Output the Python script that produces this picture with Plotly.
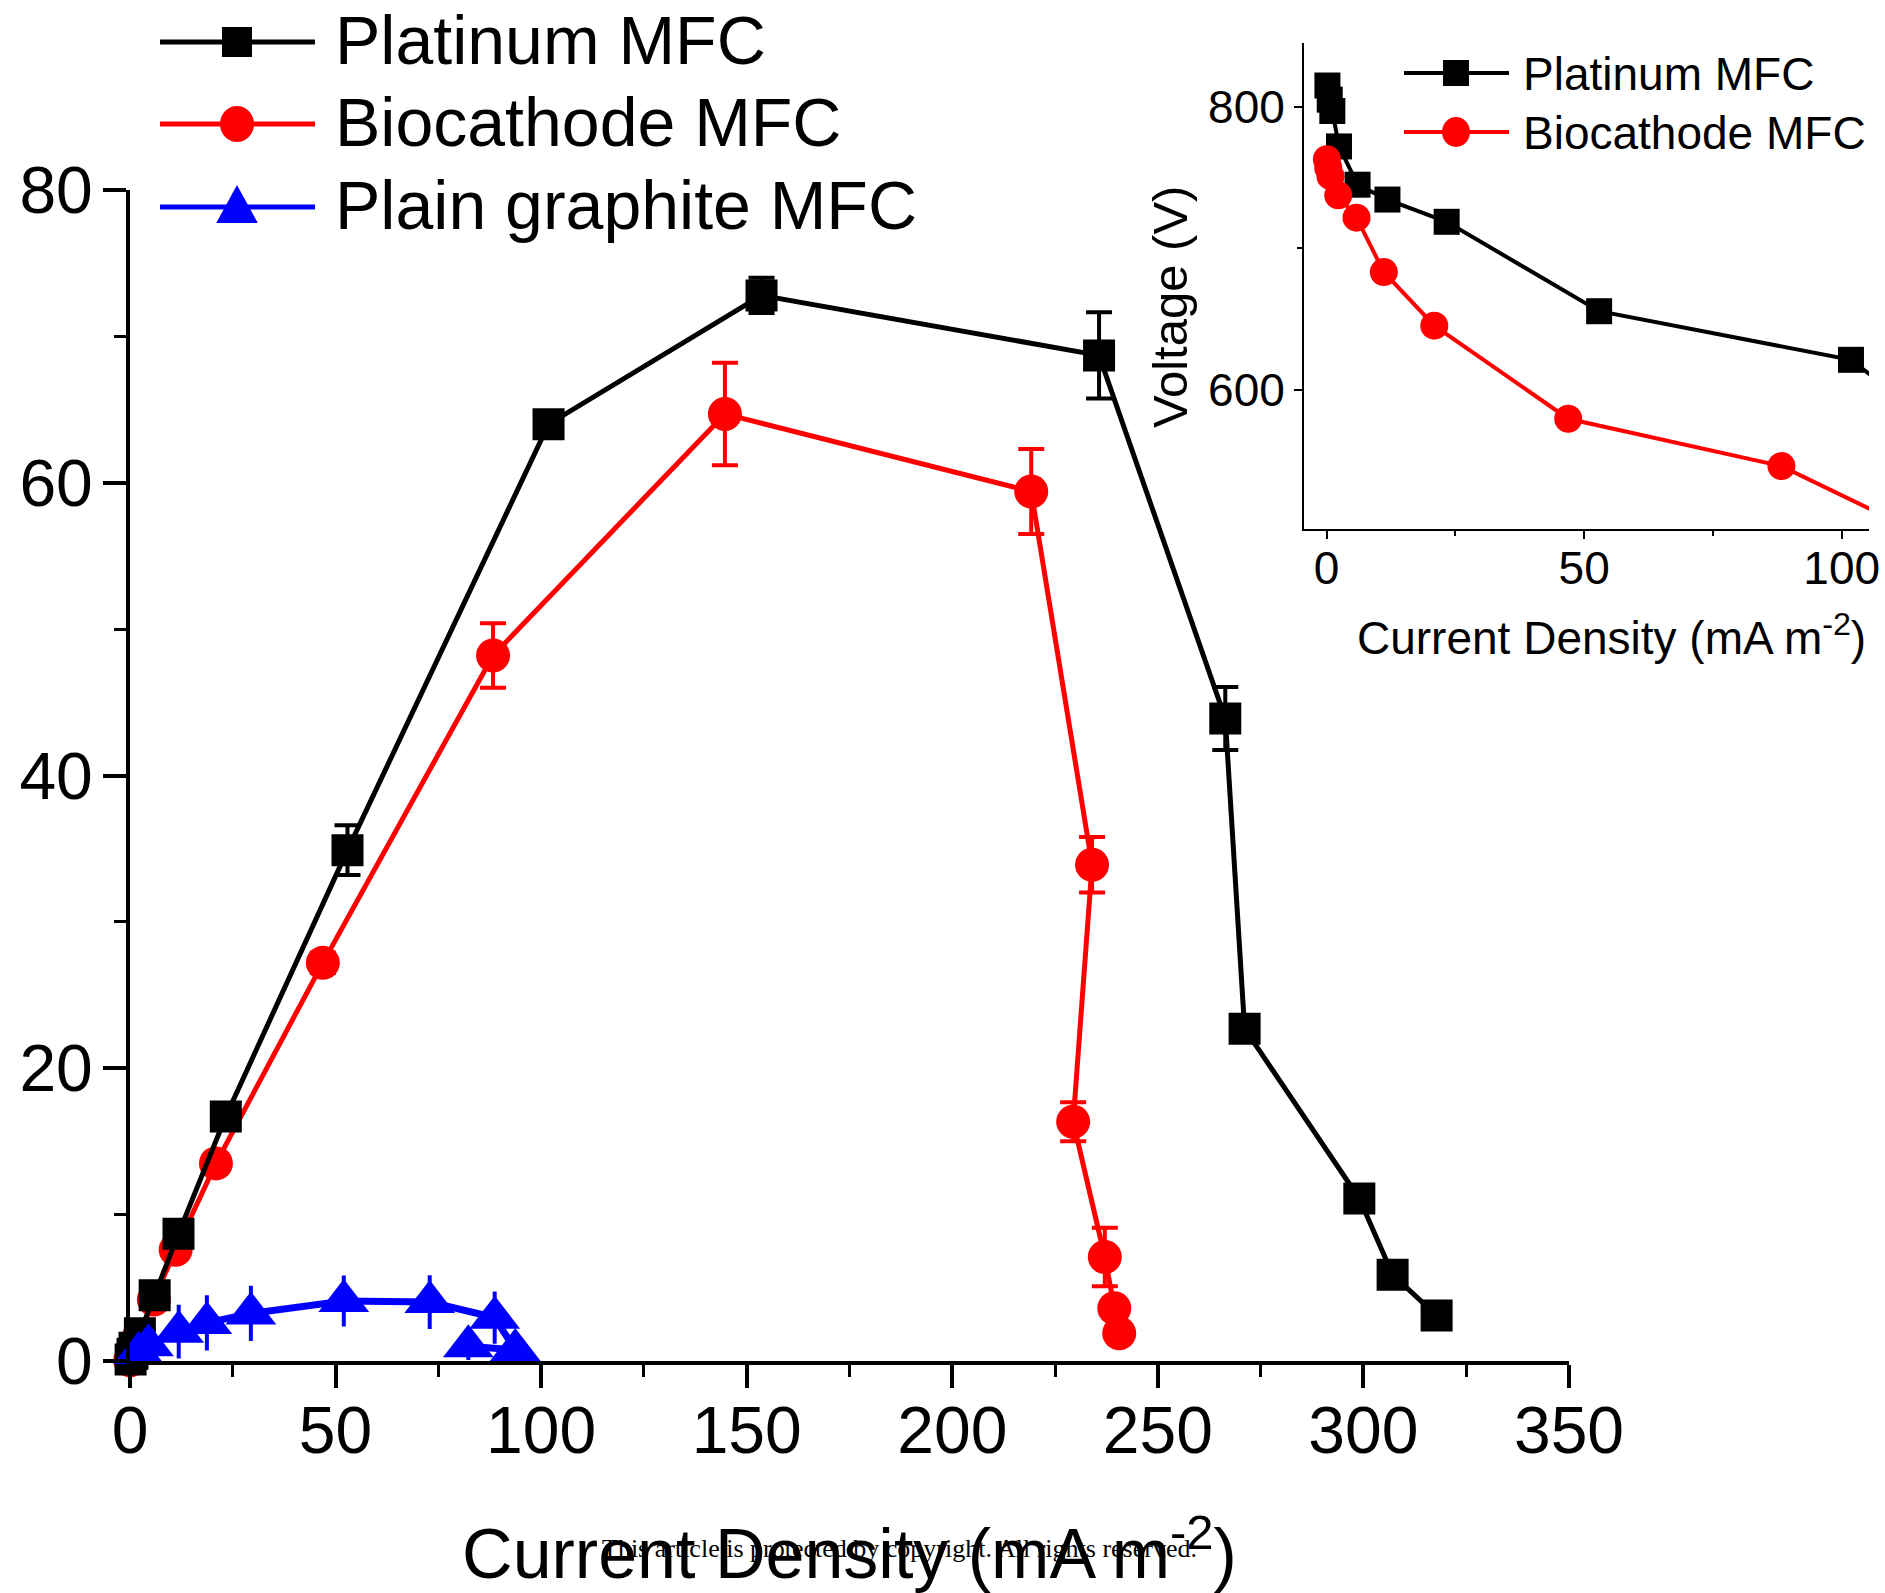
import plotly.graph_objects as go

W, H = 1885, 1593

# ---------------- data ----------------
# Platinum MFC
pt_current = [0.15, 0.6, 1.1, 2.4, 6.0, 11.8, 23.3, 52.9, 101.8, 153.6, 235.7, 266.4, 271.1, 299.0, 307.1, 317.8]
pt_power = [0.1, 0.5, 0.9, 1.9, 4.5, 8.7, 16.7, 34.9, 64.0, 72.8, 68.7, 43.9, 22.7, 11.1, 5.9, 3.1]
pt_power_err = [0.1, 0.1, 0.2, 0.3, 0.6, 0.8, 0.7, 1.7, 0.6, 1.2, 2.95, 2.15, 0.6, 0.5, 0.4, 0.4]
pt_voltage = [815, 805, 797, 772, 745, 734.5, 718.8, 655.7, 621.4, 476, 293, 165, 84, 37, 19, 10]

# Biocathode MFC
bio_current = [0.05, 0.3, 0.75, 2.25, 5.8, 11.1, 20.9, 46.9, 88.3, 144.7, 219.2, 234.0, 229.4, 237.1, 239.4, 240.6]
bio_power = [0.04, 0.2, 0.6, 1.7, 4.2, 7.6, 13.5, 27.2, 48.2, 64.7, 59.4, 33.9, 16.35, 7.1, 3.6, 1.9]
bio_power_err = [0.1, 0.1, 0.2, 0.3, 0.5, 0.6, 0.6, 0.7, 2.2, 3.5, 2.9, 1.9, 1.33, 2.0, 0.5, 0.3]
bio_voltage = [763, 757, 751, 737.5, 721.7, 683.3, 645.5, 579.8, 546.4, 447, 271, 146, 71, 30, 15, 8]

# Plain graphite MFC
pg_current = [2.1, 4.5, 11.85, 18.7, 29.4, 52.0, 72.9, 88.7, 93.7, 82.3]
pg_power = [0.55, 1.07, 2.0, 2.6, 3.25, 4.1, 4.03, 2.96, 0.75, 1.0]
pg_power_err = [0.5, 1.0, 1.7, 1.75, 1.75, 1.6, 1.7, 1.65, 0.6, 0.8]

series_names = ["Platinum MFC", "Biocathode MFC", "Plain graphite MFC"]
inset_names = ["Platinum MFC", "Biocathode MFC"]

main_x_ticks = [0, 50, 100, 150, 200, 250, 300, 350]
main_y_ticks = [0, 20, 40, 60, 80]
inset_x_ticks = [0, 50, 100]
inset_y_ticks = [600, 800]

x_title = "Current Density (mA m<sup>-2</sup>)"
inset_y_title = "Voltage (V)"
watermark = "This article is protected by copyright. All rights reserved."

# ---------------- styling ----------------
FONT = "Liberation Sans, Arial, sans-serif"
BLACK, RED, BLUE = "#000000", "#ff0000", "#0000ff"


def px_x(x):
    return x / W


def px_y(y):
    return 1 - y / H


fig = go.Figure()

# main plot traces (red, black, blue drawing order)
fig.add_trace(go.Scatter(
    x=bio_current, y=bio_power, name=series_names[1], mode="lines+markers",
    line=dict(color=RED, width=5),
    marker=dict(symbol="circle", size=34, color=RED),
    error_y=dict(type="data", array=bio_power_err, color=RED, thickness=4, width=13),
    cliponaxis=False, showlegend=False, xaxis="x", yaxis="y"))
fig.add_trace(go.Scatter(
    x=pt_current, y=pt_power, name=series_names[0], mode="lines+markers",
    line=dict(color=BLACK, width=5),
    marker=dict(symbol="square", size=32, color=BLACK),
    error_y=dict(type="data", array=pt_power_err, color=BLACK, thickness=4, width=13),
    cliponaxis=False, showlegend=False, xaxis="x", yaxis="y"))
fig.add_trace(go.Scatter(
    x=pg_current, y=pg_power, name=series_names[2], mode="lines+markers",
    line=dict(color=BLUE, width=7),
    marker=dict(symbol="triangle-up", size=44, color=BLUE),
    error_y=dict(type="data", array=pg_power_err, color=BLUE, thickness=4, width=2),
    cliponaxis=False, showlegend=False, xaxis="x", yaxis="y"))

# inset traces
fig.add_trace(go.Scatter(
    x=pt_current, y=pt_voltage, name=inset_names[0], mode="lines+markers",
    line=dict(color=BLACK, width=4),
    marker=dict(symbol="square", size=26, color=BLACK),
    showlegend=False, xaxis="x2", yaxis="y2"))
fig.add_trace(go.Scatter(
    x=bio_current, y=bio_voltage, name=inset_names[1], mode="lines+markers",
    line=dict(color=RED, width=4),
    marker=dict(symbol="circle", size=28, color=RED),
    showlegend=False, xaxis="x2", yaxis="y2"))

axis_common = dict(showgrid=False, zeroline=False, showline=True, linecolor=BLACK,
                   ticks="outside", tickcolor=BLACK, mirror=False, automargin=False)

fig.update_layout(
    template="none",
    width=W, height=H, autosize=False,
    margin=dict(l=0, r=0, t=0, b=0, pad=0),
    paper_bgcolor="white", plot_bgcolor="white",
    font=dict(family=FONT, color=BLACK),
    showlegend=False,
    xaxis=dict(**axis_common, domain=[px_x(130), px_x(1569)], range=[0, 350],
               tickvals=main_x_ticks, ticklen=23, tickwidth=4, linewidth=4,
               tickfont=dict(size=66, family=FONT), anchor="y", ticklabelstandoff=-14,
               minor=dict(dtick=25, tick0=0, ticks="outside", ticklen=12, tickwidth=3,
                          tickcolor=BLACK, showgrid=False),
               title=dict(text=x_title, font=dict(size=70, family=FONT), standoff=77)),
    yaxis=dict(**axis_common, domain=[px_y(1361), px_y(190)], range=[0, 80],
               tickvals=main_y_ticks, ticklen=23, tickwidth=4, linewidth=4,
               tickfont=dict(size=66, family=FONT), anchor="x", ticklabelstandoff=-3,
               minor=dict(dtick=10, tick0=0, ticks="outside", ticklen=12, tickwidth=3,
                          tickcolor=BLACK, showgrid=False)),
    xaxis2=dict(**axis_common, domain=[px_x(1304), px_x(1869)], range=[-4.4, 105.3],
                tickvals=inset_x_ticks, ticklen=8, tickwidth=2, linewidth=2,
                tickfont=dict(size=46, family=FONT), anchor="y2", ticklabelstandoff=-10,
                minor=dict(dtick=25, tick0=0, ticks="outside", ticklen=5, tickwidth=2,
                           tickcolor=BLACK, showgrid=False)),
    yaxis2=dict(**axis_common, domain=[px_y(529), px_y(43)], range=[502, 845],
                tickvals=inset_y_ticks, ticklen=8, tickwidth=2, linewidth=2,
                tickfont=dict(size=46, family=FONT), anchor="x2",
                minor=dict(dtick=100, tick0=0, ticks="outside", ticklen=5, tickwidth=2,
                           tickcolor=BLACK, showgrid=False)),
)

# ---------------- hand-drawn legends (long key lines like the original) ----------------
shapes = []
annotations = []


def key_marker(symbol, cx, cy, size, color):
    hx = size / 2
    if symbol == "square":
        return dict(type="rect", xref="paper", yref="paper",
                    x0=px_x(cx - hx), x1=px_x(cx + hx), y0=px_y(cy + hx), y1=px_y(cy - hx),
                    fillcolor=color, line=dict(width=0))
    if symbol == "circle":
        return dict(type="circle", xref="paper", yref="paper",
                    x0=px_x(cx - hx), x1=px_x(cx + hx), y0=px_y(cy + hx + 1), y1=px_y(cy - hx - 1),
                    fillcolor=color, line=dict(width=0))
    # triangle
    path = "M {:.5f},{:.5f} L {:.5f},{:.5f} L {:.5f},{:.5f} Z".format(
        px_x(cx), px_y(cy - size * 0.55),
        px_x(cx - size * 0.52), px_y(cy + size * 0.4),
        px_x(cx + size * 0.52), px_y(cy + size * 0.4))
    return dict(type="path", xref="paper", yref="paper", path=path,
                fillcolor=color, line=dict(width=0))


main_key = [("square", BLACK, 30), ("circle", RED, 34), ("triangle", BLUE, 40)]
main_rows = [42, 124, 207]
for name, (sym, col, sz), ry in zip(series_names, main_key, main_rows):
    shapes.append(dict(type="line", xref="paper", yref="paper",
                       x0=px_x(160), x1=px_x(315), y0=px_y(ry), y1=px_y(ry),
                       line=dict(color=col, width=5)))
    shapes.append(key_marker(sym, 237, ry, sz, col))
    annotations.append(dict(text=name, xref="paper", yref="paper", x=px_x(333), y=px_y(ry - 2),
                            xanchor="left", yanchor="middle", showarrow=False,
                            font=dict(size=68, family=FONT, color=BLACK)))

inset_key = [("square", BLACK, 26), ("circle", RED, 28)]
inset_rows = [73, 132]
for name, (sym, col, sz), ry in zip(inset_names, inset_key, inset_rows):
    shapes.append(dict(type="line", xref="paper", yref="paper",
                       x0=px_x(1404), x1=px_x(1509), y0=px_y(ry), y1=px_y(ry),
                       line=dict(color=col, width=4)))
    shapes.append(key_marker(sym, 1456, ry, sz, col))
    annotations.append(dict(text=name, xref="paper", yref="paper", x=px_x(1521), y=px_y(ry + 1),
                            xanchor="left", yanchor="middle", showarrow=False,
                            font=dict(size=46, family=FONT, color=BLACK)))

# inset axis titles (offset from the inset axes as in the original)
annotations.append(dict(text=x_title, xref="paper", yref="paper", x=px_x(1611), y=px_y(635),
                        xanchor="center", yanchor="middle", showarrow=False,
                        font=dict(size=46, family=FONT, color=BLACK)))
annotations.append(dict(text=inset_y_title, xref="paper", yref="paper", x=px_x(1170), y=px_y(307),
                        xanchor="center", yanchor="middle", showarrow=False, textangle=-90,
                        font=dict(size=49, family=FONT, color=BLACK)))

annotations.append(dict(text=watermark, xref="paper", yref="paper", x=px_x(899), y=px_y(1548),
                        xanchor="center", yanchor="middle", showarrow=False,
                        font=dict(size=26, family="Liberation Serif, Times New Roman, serif",
                                  color=BLACK)))

fig.update_layout(shapes=shapes, annotations=annotations)

fig.write_html("out.html", config={"displayModeBar": False},
               post_script="document.body.style.margin='0';document.body.style.overflow='hidden';")
